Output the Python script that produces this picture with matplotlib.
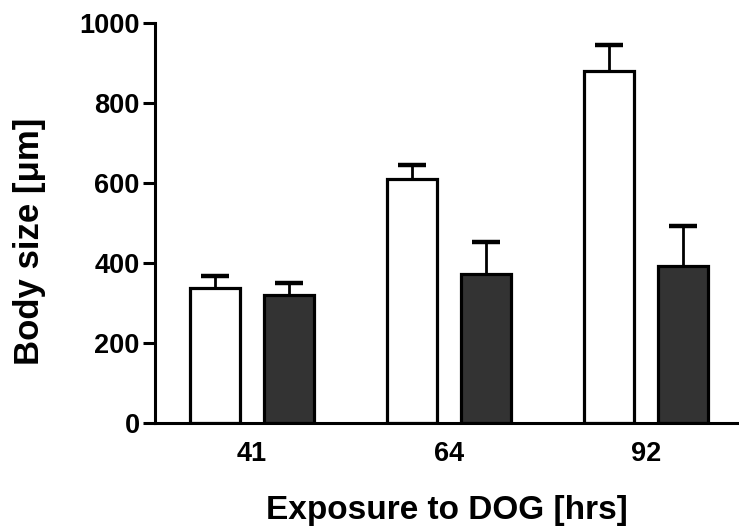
import numpy as np
import matplotlib
matplotlib.use("Agg")
import matplotlib.pyplot as plt

# Body size after exposure to DOG
hours = ["41", "64", "92"]
control_mean = [337, 610, 881]
control_err = [31, 35, 64]
dog_mean = [321, 372, 393]
dog_err = [28, 81, 100]

plt.rcParams['font.family'] = ['Liberation Sans', 'DejaVu Sans']
plt.rcParams['font.weight'] = 'bold'

fig = plt.figure(figsize=(7.39, 5.29), dpi=100)
ax = fig.add_axes([0.2097, 0.2004, 0.7903, 0.7561])

x = np.arange(len(hours))
w = 0.255
off = 0.188
lw = 2.3


def upper_err(xs, means, errs):
    # only the upper half of the error bar, like Prism draws it
    tops = np.array(means) + np.array(errs)
    ax.vlines(xs, means, tops, color='black', linewidth=2, zorder=1)
    ax.plot(xs, tops, linestyle='none', marker='_', markersize=20,
            markeredgewidth=3.2, color='black', zorder=1)


ax.bar(x - off, control_mean, w, color='white', edgecolor='black', linewidth=lw, zorder=2)
ax.bar(x + off, dog_mean, w, color='#333333', edgecolor='black', linewidth=lw, zorder=2)
upper_err(x - off, control_mean, control_err)
upper_err(x + off, dog_mean, dog_err)

ax.set_xlim(-0.492, 2.472)
ax.set_ylim(0, 1000)
ax.set_yticks([0, 200, 400, 600, 800, 1000])
ax.set_xticks(x)
ax.set_xticklabels(hours)

for s in ['top', 'right']:
    ax.spines[s].set_visible(False)
for s in ['left', 'bottom']:
    ax.spines[s].set_linewidth(2.2)

ax.tick_params(axis='y', length=9, width=2.2, labelsize=19.5, pad=2)
ax.tick_params(axis='x', length=0, labelsize=19.5, pad=13)
for lab in ax.get_xticklabels() + ax.get_yticklabels():
    lab.set_fontweight('bold')

ax.set_ylabel('Body size [\u03bcm]', fontsize=25, fontweight='bold')
ax.yaxis.set_label_coords(-0.187, 0.455)
ax.set_xlabel('Exposure to DOG [hrs]', fontsize=24, fontweight='bold', labelpad=20)

fig.savefig('out.png', dpi=100)
